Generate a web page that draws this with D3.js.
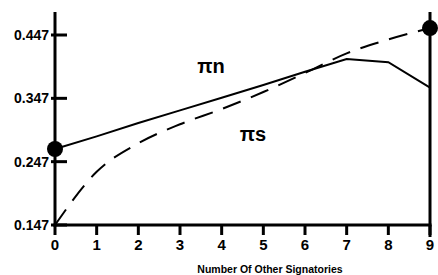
<!DOCTYPE html>
<html><head><meta charset="utf-8">
<script src="https://cdn.jsdelivr.net/npm/d3@7"></script>
<style>body{margin:0;background:#fff}svg{display:block}</style>
</head><body>
<script>
const xValues = [0,1,2,3,4,5,6,7,8,9];
const piN = [0.267,0.287,0.308,0.328,0.348,0.368,0.389,0.409,0.404,0.364];
const piS = [0.147,0.231,0.276,0.306,0.330,0.357,0.387,0.418,0.440,0.458];
const yTicks = [0.147,0.247,0.347,0.447];
const xTicks = [0,1,2,3,4,5,6,7,8,9];
const labelN = "πn", labelS = "πs";
const xTitle = "Number Of Other Signatories";

const W=438,H=275;
const svg=d3.select("body").append("svg").attr("width",W).attr("height",H);
const x=d3.scaleLinear().domain([0,9]).range([55,430]);
const y=d3.scaleLinear().domain([0.147,0.447]).range([225,35]);
const font="Arial, 'Liberation Sans', sans-serif";

// axes
svg.append("line").attr("x1",x(0)).attr("x2",x(0)).attr("y1",12).attr("y2",y(0.147)+1.5).attr("stroke","#000").attr("stroke-width",3);
svg.append("line").attr("x1",x(9)).attr("x2",x(9)).attr("y1",12).attr("y2",y(0.147)+12).attr("stroke","#000").attr("stroke-width",3);
svg.append("line").attr("x1",x(0)-1.5).attr("x2",x(9)+1.5).attr("y1",y(0.147)).attr("y2",y(0.147)).attr("stroke","#000").attr("stroke-width",3);

yTicks.forEach(t=>{
  svg.append("line").attr("x1",x(0)-4).attr("x2",x(0)+12).attr("y1",y(t)).attr("y2",y(t)).attr("stroke","#000").attr("stroke-width",3);
  svg.append("text").attr("x",x(0)-6).attr("y",y(t)+5).attr("text-anchor","end").attr("font-family",font).attr("font-weight","bold").attr("font-size",14).text(t.toFixed(3));
});
xTicks.forEach(t=>{
  svg.append("line").attr("x1",x(t)).attr("x2",x(t)).attr("y1",y(0.147)).attr("y2",y(0.147)+10).attr("stroke","#000").attr("stroke-width",3);
  svg.append("text").attr("x",x(t)).attr("y",250).attr("text-anchor","middle").attr("font-family",font).attr("font-weight","bold").attr("font-size",15).text(t);
});
svg.append("text").attr("x",270).attr("y",273).attr("text-anchor","middle").attr("font-family",font).attr("font-weight","bold").attr("font-size",10.5).text(xTitle);

const lineN=d3.line().x((d,i)=>x(xValues[i])).y(d=>y(d));
const lineS=d3.line().x((d,i)=>x(xValues[i])).y(d=>y(d)).curve(d3.curveMonotoneX);
svg.append("path").attr("d",lineN(piN)).attr("fill","none").attr("stroke","#000").attr("stroke-width",2);
svg.append("path").attr("d",lineS(piS)).attr("fill","none").attr("stroke","#000").attr("stroke-width",2).attr("stroke-dasharray","19,11");

svg.append("circle").attr("cx",x(0)).attr("cy",y(piN[0])).attr("r",8).attr("fill","#000");
svg.append("circle").attr("cx",x(9)).attr("cy",y(piS[9])).attr("r",8).attr("fill","#000");

svg.append("text").attr("x",211).attr("y",73).attr("text-anchor","middle").attr("font-family",font).attr("font-weight","bold").attr("font-size",20).text(labelN);
svg.append("text").attr("x",253).attr("y",141).attr("text-anchor","middle").attr("font-family",font).attr("font-weight","bold").attr("font-size",20).text(labelS);
</script>
</body></html>
